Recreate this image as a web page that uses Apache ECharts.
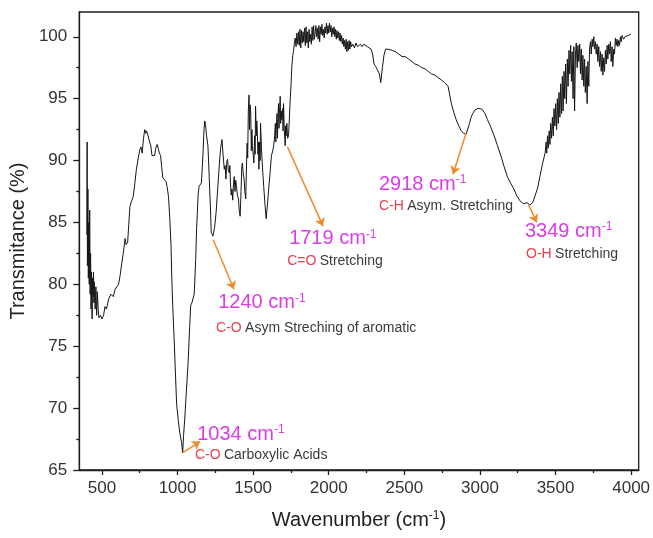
<!DOCTYPE html>
<html>
<head>
<meta charset="utf-8">
<script src="https://cdn.jsdelivr.net/npm/echarts@6/dist/echarts.min.js"></script>
<style>
html, body { margin: 0; padding: 0; background: #fff; }
#main { width: 653px; height: 538px; }
</style>
</head>
<body>
<div id="main"></div>
<script>
// FTIR spectrum
var wavenumber = [
  400, 402, 404, 407, 410, 413, 416, 419, 422, 425, 428, 431, 435, 438, 441, 444, 447, 450, 455, 460,
  465, 470, 475, 480, 490, 500, 511, 520, 530, 544, 560, 575, 587, 598, 610, 620, 632, 642, 653, 660,
  670, 685, 695, 707, 718, 728, 740, 751, 758, 766, 775, 783, 790, 795, 805, 815, 823, 831, 840, 848,
  856, 865, 872, 880, 888, 895, 903, 912, 924, 932, 940, 948, 957, 962, 968, 979, 987, 994, 1005, 1015,
  1027, 1034, 1040, 1048, 1058, 1070, 1080, 1087, 1095, 1103, 1110, 1114, 1120, 1126, 1131, 1136, 1142, 1150, 1158, 1164,
  1170, 1175, 1180, 1185, 1192, 1201, 1210, 1218, 1223, 1234, 1245, 1255, 1266, 1277, 1285, 1294, 1301, 1309, 1315, 1320,
  1326, 1331, 1336, 1342, 1346, 1350, 1355, 1360, 1365, 1370, 1375, 1380, 1385, 1390, 1396, 1403, 1408, 1414, 1420, 1425,
  1429, 1434, 1440, 1445, 1451, 1456, 1460, 1464, 1468, 1473, 1476, 1480, 1484, 1488, 1492, 1495, 1500, 1505, 1510, 1513,
  1516, 1521, 1524, 1527, 1532, 1535, 1538, 1543, 1546, 1549, 1555, 1560, 1565, 1570, 1578, 1586, 1595, 1603, 1612, 1621,
  1630, 1636, 1642, 1647, 1650, 1653, 1658, 1661, 1663, 1668, 1671, 1674, 1679, 1682, 1685, 1690, 1695, 1698, 1701, 1706,
  1712, 1715, 1718, 1723, 1728, 1734, 1740, 1745, 1750, 1756, 1762, 1767, 1772, 1778, 1784, 1789, 1795, 1800, 1805, 1810,
  1815, 1820, 1825, 1830, 1835, 1840, 1845, 1850, 1855, 1860, 1865, 1870, 1875, 1880, 1885, 1890, 1895, 1900, 1905, 1910,
  1915, 1920, 1925, 1930, 1935, 1940, 1945, 1950, 1955, 1960, 1965, 1970, 1975, 1980, 1985, 1990, 1995, 2000, 2005, 2010,
  2015, 2020, 2025, 2030, 2035, 2040, 2045, 2050, 2055, 2060, 2065, 2070, 2075, 2080, 2085, 2090, 2095, 2100, 2105, 2110,
  2115, 2120, 2125, 2130, 2135, 2140, 2145, 2150, 2160, 2170, 2180, 2190, 2200, 2210, 2220, 2232, 2245, 2255, 2265, 2280,
  2290, 2300, 2310, 2322, 2335, 2344, 2355, 2365, 2376, 2390, 2400, 2419, 2440, 2463, 2485, 2506, 2528, 2550, 2570, 2593,
  2615, 2637, 2659, 2680, 2702, 2724, 2745, 2767, 2789, 2800, 2811, 2827, 2843, 2860, 2876, 2893, 2908, 2918, 2931, 2942,
  2952, 2968, 2985, 3000, 3017, 3033, 3050, 3072, 3094, 3116, 3138, 3160, 3181, 3202, 3224, 3246, 3268, 3290, 3311, 3330,
  3349, 3366, 3382, 3398, 3415, 3431, 3438, 3442, 3447, 3452, 3458, 3463, 3468, 3474, 3479, 3485, 3490, 3496, 3501, 3507,
  3512, 3518, 3523, 3529, 3534, 3540, 3545, 3550, 3556, 3561, 3567, 3572, 3578, 3583, 3589, 3594, 3600, 3605, 3610, 3616,
  3621, 3626, 3632, 3637, 3643, 3648, 3654, 3660, 3665, 3670, 3676, 3681, 3687, 3692, 3697, 3703, 3709, 3714, 3720, 3725,
  3731, 3736, 3742, 3747, 3753, 3758, 3764, 3769, 3775, 3780, 3786, 3791, 3797, 3802, 3808, 3813, 3819, 3824, 3830, 3835,
  3841, 3846, 3852, 3857, 3863, 3868, 3874, 3879, 3885, 3890, 3896, 3901, 3907, 3912, 3918, 3923, 3929, 3934, 3940, 3950,
  3960, 3970, 3980, 3990, 3998
];
var transmittance = [
  84.0, 91.5, 81.5, 87.7, 80.5, 85.0, 80.0, 86.0, 79.2, 82.5, 78.0, 81.0, 77.2, 80.5, 79.0, 81.0, 78.5, 80.2, 78.0, 79.8,
  77.5, 79.4, 78.0, 77.3, 77.5, 77.2, 77.5, 78.2, 78.0, 78.8, 79.2, 79.0, 79.6, 79.5, 80.0, 80.7, 81.8, 82.6, 83.7, 83.2,
  83.4, 86.3, 86.7, 87.1, 88.2, 89.3, 90.2, 90.9, 91.1, 90.6, 91.8, 92.5, 92.2, 92.4, 92.0, 91.5, 91.2, 90.4, 90.3, 90.4,
  91.0, 91.3, 91.0, 90.6, 90.4, 89.5, 88.6, 88.5, 88.3, 87.8, 87.1, 85.5, 83.1, 80.5, 78.3, 75.1, 72.5, 70.3, 69.0, 68.0,
  67.2, 66.4, 67.8, 69.2, 71.3, 73.7, 76.5, 78.3, 78.5, 78.6, 79.2, 80.2, 82.0, 84.5, 85.8, 87.2, 87.9, 88.0, 88.2, 89.5,
  91.0, 92.5, 93.2, 92.9, 92.0, 91.2, 88.5, 86.0, 84.2, 83.9, 84.6, 85.8, 87.8, 89.8, 91.0, 91.7, 90.5, 89.3, 89.6, 88.5,
  89.9, 90.1, 89.2, 89.0, 89.6, 88.2, 87.2, 87.7, 86.8, 88.2, 88.7, 87.5, 88.4, 87.9, 87.2, 86.9, 86.0, 85.5, 87.5, 89.5,
  89.8, 89.0, 88.5, 87.5, 86.9, 89.5, 91.4, 90.2, 94.0, 95.3, 92.5, 94.5, 93.8, 90.8, 92.5, 91.2, 90.5, 89.8, 92.0, 90.5,
  94.4, 92.0, 93.2, 92.5, 90.5, 91.5, 89.3, 91.5, 90.0, 93.0, 91.0, 89.8, 88.8, 87.9, 86.5, 85.3, 86.5, 87.7, 89.0, 90.4,
  90.8, 91.2, 92.0, 93.0, 91.5, 92.5, 93.8, 91.8, 93.2, 94.6, 92.6, 93.8, 95.2, 93.0, 94.0, 93.3, 94.2, 92.4, 94.6, 92.5,
  91.2, 92.8, 92.0, 93.0, 91.8, 92.0, 93.5, 94.9, 96.0, 97.6, 98.5, 98.8, 99.4, 99.9, 99.2, 100.3, 99.4, 100.4, 99.3, 100.6,
  99.1, 100.5, 99.5, 100.4, 99.6, 100.7, 99.3, 100.8, 99.5, 100.4, 99.1, 100.6, 99.6, 100.2, 99.4, 100.8, 99.7, 100.9, 99.8, 100.3,
  100.9, 100.0, 100.7, 99.8, 100.9, 99.6, 100.8, 100.2, 101.0, 100.1, 100.6, 99.9, 100.8, 100.3, 101.1, 100.2, 100.9, 100.3, 101.1, 100.4,
  100.9, 100.0, 100.7, 100.2, 100.8, 100.0, 100.6, 99.8, 100.5, 99.9, 100.4, 99.7, 100.3, 99.6, 100.1, 99.4, 99.9, 99.2, 99.7, 99.0,
  99.8, 98.8, 99.6, 98.9, 99.7, 99.0, 99.6, 99.2, 99.4, 99.1, 99.5, 99.2, 99.3, 99.4, 99.2, 99.4, 99.3, 99.2, 99.3, 99.0,
  98.6, 97.8, 97.6, 97.5, 97.0, 96.3, 97.5, 98.5, 99.0, 99.0, 98.9, 98.9, 98.8, 98.6, 98.4, 98.4, 98.2, 98.0, 97.8, 97.7,
  97.5, 97.4, 97.2, 97.0, 96.9, 96.7, 96.5, 96.3, 96.0, 95.3, 94.6, 93.9, 93.3, 92.8, 92.4, 92.2, 92.1, 92.2, 93.0, 93.5,
  93.8, 94.1, 94.2, 94.2, 94.1, 93.8, 93.3, 92.7, 92.0, 91.2, 90.4, 89.5, 88.7, 88.2, 87.7, 87.1, 86.7, 86.5, 86.6, 86.4,
  86.6, 87.2, 87.8, 88.8, 89.8, 90.6, 91.5, 90.6, 92.0, 91.0, 92.4, 91.3, 93.0, 91.8, 93.5, 92.0, 94.2, 92.8, 94.6, 92.5,
  95.0, 93.0, 95.5, 93.5, 96.2, 93.8, 96.8, 94.0, 97.2, 95.0, 97.8, 94.6, 98.2, 96.0, 98.9, 97.0, 99.3, 96.4, 98.8, 95.0,
  99.2, 94.0, 98.6, 99.5, 97.5, 99.3, 98.0, 99.4, 97.0, 99.0, 96.5, 98.5, 96.0, 98.2, 95.5, 97.6, 94.6, 98.0, 96.0, 99.0,
  99.6, 98.6, 99.8, 99.2, 100.0, 99.0, 99.6, 98.6, 99.4, 98.0, 99.2, 97.6, 98.8, 97.2, 98.6, 96.9, 98.3, 97.2, 98.9, 97.8,
  99.3, 98.2, 99.4, 98.6, 99.6, 98.0, 99.2, 97.6, 99.0, 98.6, 99.9, 99.3, 99.8, 99.2, 99.7, 99.3, 100.0, 99.6, 100.1, 99.8,
  100.0, 99.9, 100.1, 100.0, 100.2
];

var xTicks = [500, 1000, 1500, 2000, 2500, 3000, 3500, 4000];
var xMinorTicks = [750, 1250, 1750, 2250, 2750, 3250, 3750];
var yTicks = [65, 70, 75, 80, 85, 90, 95, 100];
var yMinorTicks = [67.5, 72.5, 77.5, 82.5, 87.5, 92.5, 97.5];

// peak annotations
var peakValues = ['1034', '1240', '1719', '2918', '3349'];
var peakGroups = ['C-O', 'C-O', 'C=O', 'C-H', 'O-H'];
var peakModes = ['Carboxylic Acids', 'Asym Streching of aromatic', 'Stretching', 'Asym. Stretching', 'Stretching'];
// where the labels sit, in axis units
var valueLabelAt = [[1130, 67.9], [1269, 78.5], [1738, 83.7], [2332, 88.1], [3298, 84.3]];
var modeLabelAt = [[1115, 66.2], [1255, 76.5], [1725, 81.9], [2332, 86.3], [3305, 82.4]];
var arrowFrom = [[1034, 66.4], [1236, 83.6], [1727, 91.1], [2908, 92.2], [3322, 86.4]];
var arrowTo = [[1150, 67.3], [1373, 79.6], [1962, 84.7], [2822, 88.9], [3376, 85.0]];

var myChart = echarts.init(document.getElementById('main'));

var seriesData = [];
for (var i = 0; i < wavenumber.length; i++) {
  seriesData.push([wavenumber[i], transmittance[i]]);
}

var pointData = [];
var lineData = [];
for (var j = 0; j < peakValues.length; j++) {
  pointData.push({
    coord: valueLabelAt[j],
    label: {formatter: '{n|' + peakValues[j] + ' cm}{s|-1}'}
  });
  pointData.push({
    coord: modeLabelAt[j],
    label: {formatter: '{r|' + peakGroups[j] + '} {g|' + peakModes[j] + '}'}
  });
  lineData.push([{coord: arrowFrom[j]}, {coord: arrowTo[j]}]);
}

var font = 'Liberation Sans, Arial, sans-serif';
var frame = '#1e1e1e';

option = {
  animation: false,
  backgroundColor: '#fff',
  textStyle: {fontFamily: font},
  grid: {left: 76, right: 13, top: 12, bottom: 68, show: true, borderColor: frame, borderWidth: 1.3, backgroundColor: '#fff'},
  xAxis: [{
    type: 'value', min: 350, max: 4050, position: 'bottom',
    name: '{a|Wavenumber (cm}{b|-1}{a|)}', nameLocation: 'middle', nameGap: 40,
    nameTextStyle: {rich: {
      a: {fontSize: 20, color: '#222', fontFamily: font},
      b: {fontSize: 12, color: '#222', fontFamily: font, verticalAlign: 'top'}
    }},
    axisLine: {show: true, lineStyle: {color: frame, width: 1.3}},
    axisTick: {show: true, customValues: xTicks, length: 5, lineStyle: {color: frame, width: 1.3}},
    axisLabel: {customValues: xTicks, fontSize: 17, color: '#333', margin: 10, formatter: function (v) { return String(v); }},
    splitLine: {show: false}
  }, {
    type: 'value', min: 350, max: 4050, position: 'bottom',
    axisLine: {show: false},
    axisTick: {show: true, customValues: xMinorTicks, length: 3, lineStyle: {color: frame, width: 1.3}},
    axisLabel: {show: false},
    splitLine: {show: false}
  }],
  yAxis: [{
    type: 'value', min: 65, max: 102, position: 'left',
    name: 'Transmitance (%)', nameLocation: 'middle', nameGap: 43,
    nameTextStyle: {fontSize: 20, color: '#222'},
    axisLine: {show: true, lineStyle: {color: frame, width: 1.3}},
    axisTick: {show: true, customValues: yTicks, length: 6, lineStyle: {color: frame, width: 1.3}},
    axisLabel: {customValues: yTicks, fontSize: 17, color: '#333', margin: 12},
    splitLine: {show: false}
  }, {
    type: 'value', min: 65, max: 102, position: 'left',
    axisLine: {show: false},
    axisTick: {show: true, customValues: yMinorTicks, length: 3, lineStyle: {color: frame, width: 1.3}},
    axisLabel: {show: false},
    splitLine: {show: false}
  }],
  series: [{
    type: 'line',
    data: seriesData,
    showSymbol: false,
    lineStyle: {color: '#161616', width: 1},
    markLine: {
      silent: true,
      symbol: ['none', 'arrow'],
      symbolSize: 8,
      label: {show: false},
      lineStyle: {color: '#f08a2a', width: 1.5, type: 'solid'},
      data: lineData
    },
    markPoint: {
      silent: true,
      symbol: 'circle',
      symbolSize: 0,
      label: {
        show: true, position: 'right', distance: 0,
        rich: {
          n: {fontSize: 20, color: '#dc3be6', fontFamily: font},
          s: {fontSize: 12, color: '#dc3be6', fontFamily: font, verticalAlign: 'top'},
          r: {fontSize: 14, color: '#e8404f', fontFamily: font},
          g: {fontSize: 14, color: '#3a3a3a', fontFamily: font}
        }
      },
      data: pointData
    }
  }]
};
myChart.setOption(option);
</script>
</body>
</html>
